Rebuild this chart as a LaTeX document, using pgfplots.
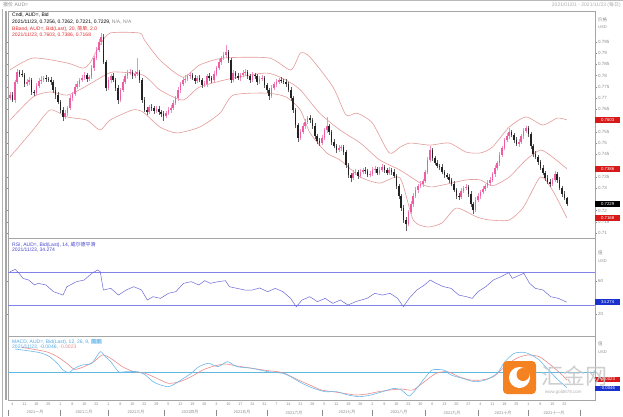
\documentclass[border=0pt]{standalone}
\usepackage{pgfplots}
\pgfplotsset{compat=1.18}
\usepackage{pgfplotstable}
\usepackage{fontspec}
\setmainfont{Liberation Sans}
\newfontfamily\cjk{Noto Sans CJK SC}
\definecolor{upc}{RGB}{238,92,165}
\definecolor{upw}{RGB}{240,145,192}
\definecolor{dnc}{RGB}{35,35,35}
\definecolor{dnw}{RGB}{95,95,95}
\definecolor{bbc}{RGB}{228,155,155}
\definecolor{rsic}{RGB}{105,105,215}
\definecolor{rsil}{RGB}{130,130,232}
\definecolor{macdc}{RGB}{110,185,235}
\definecolor{sigc}{RGB}{235,140,140}
\definecolor{zeroc}{RGB}{95,185,225}
\definecolor{frame}{RGB}{165,165,165}
\definecolor{lbl}{RGB}{140,140,140}
\definecolor{hdrred}{RGB}{225,45,45}
\definecolor{hdrblue}{RGB}{70,70,205}
\definecolor{hdrcyan}{RGB}{80,170,230}
\definecolor{logoor}{RGB}{245,130,32}
\definecolor{bxred}{RGB}{215,25,25}
\definecolor{bxblue}{RGB}{25,50,205}

\pgfplotstableread{
i o c u d
0 0.7700 0.7713 12 10
1 0.7713 0.7691 14 9
2 0.7691 0.7771 10 12
3 0.7771 0.7816 13 8
4 0.7816 0.7808 9 15
5 0.7808 0.7802 16 10
6 0.7802 0.7762 8 13
7 0.7762 0.7771 12 9
8 0.7771 0.7779 15 11
9 0.7779 0.7727 10 14
10 0.7727 0.7722 9 12
11 0.7722 0.7753 14 8
12 0.7753 0.7776 11 10
13 0.7776 0.7780 16 12
14 0.7780 0.7789 9 10
15 0.7789 0.7785 12 14
16 0.7785 0.7780 10 9
17 0.7780 0.7771 13 11
18 0.7771 0.7736 8 12
19 0.7736 0.7713 11 15
20 0.7713 0.7682 14 10
21 0.7682 0.7647 9 13
22 0.7647 0.7616 12 18
23 0.7616 0.7633 15 9
24 0.7633 0.7656 10 12
25 0.7656 0.7700 13 8
26 0.7700 0.7718 9 11
27 0.7718 0.7749 12 10
28 0.7749 0.7762 16 9
29 0.7762 0.7780 10 13
30 0.7780 0.7789 12 10
31 0.7789 0.7802 14 9
32 0.7802 0.7785 9 12
33 0.7785 0.7793 11 10
34 0.7793 0.7833 13 9
35 0.7833 0.7878 10 12
36 0.7878 0.7913 15 10
37 0.7913 0.7949 12 9
38 0.7949 0.7971 20 14
39 0.7971 0.7860 12 10
40 0.7860 0.7744 10 14
41 0.7744 0.7780 13 9
42 0.7780 0.7798 11 12
43 0.7798 0.7780 14 10
44 0.7780 0.7744 9 13
45 0.7744 0.7691 12 16
46 0.7691 0.7736 10 9
47 0.7736 0.7771 13 11
48 0.7771 0.7798 9 10
49 0.7798 0.7811 12 14
50 0.7811 0.7816 15 10
51 0.7816 0.7798 10 12
52 0.7798 0.7807 13 9
53 0.7807 0.7816 60 11
54 0.7816 0.7780 10 12
55 0.7780 0.7691 9 14
56 0.7691 0.7647 12 10
57 0.7647 0.7638 14 12
58 0.7638 0.7660 10 9
59 0.7660 0.7656 13 15
60 0.7656 0.7642 9 11
61 0.7642 0.7651 12 10
62 0.7651 0.7638 15 12
63 0.7638 0.7629 10 14
64 0.7629 0.7620 12 22
65 0.7620 0.7633 9 10
66 0.7633 0.7647 13 9
67 0.7647 0.7656 11 12
68 0.7656 0.7678 14 10
69 0.7678 0.7700 10 9
70 0.7700 0.7736 12 11
71 0.7736 0.7762 9 13
72 0.7762 0.7780 13 10
73 0.7780 0.7785 16 12
74 0.7785 0.7798 10 9
75 0.7798 0.7802 12 14
76 0.7802 0.7789 9 10
77 0.7789 0.7776 14 12
78 0.7776 0.7789 11 10
79 0.7789 0.7780 13 9
80 0.7780 0.7758 10 15
81 0.7758 0.7762 12 10
82 0.7762 0.7798 9 11
83 0.7798 0.7789 14 12
84 0.7789 0.7780 10 13
85 0.7780 0.7807 12 9
86 0.7807 0.7833 11 10
87 0.7833 0.7860 14 9
88 0.7860 0.7878 10 12
89 0.7878 0.7891 13 10
90 0.7891 0.7904 30 11
91 0.7904 0.7869 10 12
92 0.7869 0.7780 9 14
93 0.7780 0.7811 13 10
94 0.7811 0.7798 11 12
95 0.7798 0.7789 14 9
96 0.7789 0.7802 10 11
97 0.7802 0.7811 12 10
98 0.7811 0.7816 15 12
99 0.7816 0.7798 10 13
100 0.7798 0.7780 9 11
101 0.7780 0.7802 13 10
102 0.7802 0.7798 11 12
103 0.7798 0.7771 10 14
104 0.7771 0.7785 14 9
105 0.7785 0.7789 12 10
106 0.7789 0.7758 9 12
107 0.7758 0.7736 11 14
108 0.7736 0.7709 10 16
109 0.7709 0.7744 13 9
110 0.7744 0.7762 11 10
111 0.7762 0.7771 14 12
112 0.7771 0.7780 10 9
113 0.7780 0.7776 12 11
114 0.7776 0.7771 9 10
115 0.7771 0.7762 13 12
116 0.7762 0.7736 10 11
117 0.7736 0.7700 12 13
118 0.7700 0.7647 9 14
119 0.7647 0.7580 11 12
120 0.7580 0.7522 10 16
121 0.7522 0.7549 13 9
122 0.7549 0.7576 11 10
123 0.7576 0.7594 14 12
124 0.7594 0.7611 10 9
125 0.7611 0.7602 13 11
126 0.7602 0.7576 9 12
127 0.7576 0.7531 11 13
128 0.7531 0.7509 10 12
129 0.7509 0.7500 12 14
130 0.7500 0.7522 13 9
131 0.7522 0.7558 11 10
132 0.7558 0.7576 40 12
133 0.7576 0.7549 10 11
134 0.7549 0.7505 9 13
135 0.7505 0.7487 12 10
136 0.7487 0.7469 10 14
137 0.7469 0.7478 13 9
138 0.7478 0.7482 11 12
139 0.7482 0.7460 10 11
140 0.7460 0.7402 9 13
141 0.7402 0.7358 11 12
142 0.7358 0.7345 10 16
143 0.7345 0.7367 13 9
144 0.7367 0.7371 12 11
145 0.7371 0.7353 10 12
146 0.7353 0.7371 14 9
147 0.7371 0.7380 11 10
148 0.7380 0.7376 13 12
149 0.7376 0.7358 10 11
150 0.7358 0.7362 12 10
151 0.7362 0.7380 14 9
152 0.7380 0.7385 11 12
153 0.7385 0.7367 10 11
154 0.7367 0.7380 13 10
155 0.7380 0.7393 12 9
156 0.7393 0.7380 10 12
157 0.7380 0.7367 11 10
158 0.7367 0.7380 14 9
159 0.7380 0.7371 10 11
160 0.7371 0.7353 12 10
161 0.7353 0.7309 9 13
162 0.7309 0.7265 11 12
163 0.7265 0.7211 10 14
164 0.7211 0.7158 12 13
165 0.7158 0.7140 14 30
166 0.7140 0.7193 10 9
167 0.7193 0.7229 12 10
168 0.7229 0.7265 11 12
169 0.7265 0.7291 13 9
170 0.7291 0.7309 10 11
171 0.7309 0.7318 12 10
172 0.7318 0.7331 9 12
173 0.7331 0.7371 11 10
174 0.7371 0.7425 12 9
175 0.7425 0.7469 18 10
176 0.7469 0.7433 10 12
177 0.7433 0.7411 11 10
178 0.7411 0.7398 13 11
179 0.7398 0.7393 10 12
180 0.7393 0.7371 12 10
181 0.7371 0.7358 9 13
182 0.7358 0.7349 11 10
183 0.7349 0.7336 13 12
184 0.7336 0.7318 10 11
185 0.7318 0.7291 12 10
186 0.7291 0.7265 9 13
187 0.7265 0.7260 11 12
188 0.7260 0.7287 13 9
189 0.7287 0.7300 10 11
190 0.7300 0.7305 12 10
191 0.7305 0.7274 9 12
192 0.7274 0.7229 11 13
193 0.7229 0.7202 10 17
194 0.7202 0.7247 13 9
195 0.7247 0.7265 11 10
196 0.7265 0.7282 10 12
197 0.7282 0.7296 12 9
198 0.7296 0.7309 9 11
199 0.7309 0.7322 13 10
200 0.7322 0.7336 11 12
201 0.7336 0.7362 10 9
202 0.7362 0.7389 12 11
203 0.7389 0.7411 9 10
204 0.7411 0.7447 13 12
205 0.7447 0.7478 11 9
206 0.7478 0.7513 10 11
207 0.7513 0.7531 12 10
208 0.7531 0.7549 18 12
209 0.7549 0.7536 10 11
210 0.7536 0.7513 9 13
211 0.7513 0.7496 12 10
212 0.7496 0.7505 11 12
213 0.7505 0.7531 10 9
214 0.7531 0.7553 13 11
215 0.7553 0.7567 10 10
216 0.7567 0.7540 9 12
217 0.7540 0.7487 11 13
218 0.7487 0.7451 10 12
219 0.7451 0.7438 13 10
220 0.7438 0.7416 11 12
221 0.7416 0.7389 10 9
222 0.7389 0.7367 12 11
223 0.7367 0.7345 9 13
224 0.7345 0.7327 11 10
225 0.7327 0.7318 13 12
226 0.7318 0.7336 10 9
227 0.7336 0.7362 12 11
228 0.7362 0.7336 10 12
229 0.7336 0.7300 11 10
230 0.7300 0.7274 9 13
231 0.7274 0.7256 12 10
232 0.7256 0.7229 6 8
}\candles

\pgfplotstableread{
i v
0 0.7825
9.6 0.7878
23.8 0.7856
30.4 0.7833
33.3 0.7856
37.5 0.7936
41.7 0.7989
54 0.7989
56 0.7958
62.5 0.7869
72 0.7793
79 0.7847
89 0.7878
108 0.7878
117 0.7825
121 0.7900
125 0.7882
134.6 0.7749
140 0.7625
144.6 0.7633
151 0.7589
158 0.7456
162.5 0.7482
166.7 0.7500
175 0.7491
183 0.7500
190 0.7460
196 0.7456
201 0.7482
208 0.7571
215 0.7616
222 0.7580
228 0.7611
232 0.7603
}\bbup

\pgfplotstableread{
i v
0 0.7602
9.6 0.7705
16.7 0.7727
23.8 0.7713
30.4 0.7745
37.5 0.7789
43 0.7816
55.4 0.7802
62.5 0.7736
72 0.7691
79 0.7749
93 0.7789
107 0.7811
115 0.7780
121 0.7736
129 0.7633
137.5 0.7558
146 0.7500
154 0.7425
162.5 0.7380
171 0.7322
176 0.7305
190 0.7336
196 0.7336
201 0.7310
208 0.7349
215 0.7425
221 0.7469
226 0.7438
232 0.7386
}\bbmid

\pgfplotstableread{
i v
0 0.7438
9.6 0.7558
16.7 0.7647
23.8 0.7616
32 0.7602
37.5 0.7558
41.7 0.7602
51 0.7647
55.4 0.7638
62.5 0.7571
69.6 0.7545
79 0.7571
87.5 0.7633
93 0.7713
107 0.7722
115 0.7705
121 0.7647
125 0.7545
132 0.7456
137.5 0.7425
146 0.7349
154 0.7322
162.5 0.7345
168 0.7158
174 0.7127
180 0.7145
186 0.7211
194.6 0.7171
200 0.7158
208 0.7158
214 0.7216
221 0.7349
226 0.7291
232 0.7168
}\bblow

\pgfplotstableread{
i v
0 71.2
2.2 74.0
3.8 69.2
5.4 63.1
7.8 61.1
10.2 55.1
11.8 57.1
15 55.1
18.1 47.0
22.1 42.9
23.7 53.0
27.7 59.1
30.9 61.1
34.1 69.2
36.5 73.2
37.6 71.2
38.9 49.0
42 51.0
45.2 42.9
48.4 49.0
51.6 53.0
54.8 49.0
57.2 36.9
59.6 40.9
62.8 38.9
66 45.0
69.1 47.0
72.3 57.1
75.5 59.1
78.7 55.1
81.1 60.3
83.5 57.1
86.7 59.1
89.8 60.3
91.4 53.0
94.6 51.0
97.8 49.0
101 49.0
104 51.5
107.4 47.0
110.5 51.0
113.7 47.0
116.9 38.9
119.3 28.8
121.7 36.9
124.9 40.9
128.1 34.9
131.3 38.9
134.5 32.8
137.6 36.9
140.8 30.8
144 34.9
148.8 38.9
152 45.0
155.2 42.9
158.4 45.0
161.5 38.9
163.9 28.8
166.3 38.9
169.5 49.0
172.7 55.1
175.1 61.1
177.5 57.1
180.7 53.0
183.8 51.0
187 42.9
190.2 40.9
192.6 38.9
195 47.0
198.2 53.0
201.4 61.1
204.6 65.2
207.8 70.0
209.3 63.1
214.1 69.2
216.5 57.1
218.9 51.0
222.1 49.0
225.3 40.9
228.5 38.9
232 34.27
}\rsi

\pgfplotstableread{
i v
2 0.0070
10.2 0.0062
13.4 0.0057
16.5 0.0047
19.7 0.0027
22.1 0.0007
24.5 -0.0001
26.9 0.0012
30.1 0.0022
34.1 0.0027
37.6 0.0062
39.7 0.0047
42 0.0032
45.2 0.0002
48.4 0.0002
53.2 0.0002
56.4 -0.0008
59.6 -0.0028
62.8 -0.0038
66 -0.0043
69.1 -0.0033
72.3 -0.0018
75.5 -0.0003
78.7 0.0017
82.7 0.0027
86.7 0.0017
90.6 0.0032
94.6 0.0017
101 0.0012
107.4 0.0002
113.7 -0.0003
116.9 -0.0013
121.7 -0.0033
126.5 -0.0048
131.3 -0.0058
136.1 -0.0058
140.8 -0.0068
145.6 -0.0073
150.4 -0.0068
155.2 -0.0058
160 -0.0048
163.1 -0.0053
166.3 -0.0071
169.5 -0.0048
172.7 -0.0018
175.9 0.0007
180.7 0.0007
183.8 -0.0008
188.6 -0.0018
193.4 -0.0028
198.2 -0.0023
203 -0.0003
206.2 0.0032
210.1 0.0057
214.1 0.0060
217.3 0.0052
220.5 0.0037
223.7 0.0012
227.7 -0.0018
232 -0.0046
}\macd

\pgfplotstableread{
i v
5 0.0075
15 0.0062
19.7 0.0047
23.7 0.0027
26.9 0.0009
30.9 0.0017
34.9 0.0032
38.5 0.0052
42 0.0042
46.8 0.0017
51.6 0.0002
56.4 -0.0003
61.2 -0.0018
66 -0.0033
70.7 -0.0028
75.5 -0.0013
80.3 0.0007
85.1 0.0019
89.8 0.0025
94.6 0.0019
101 0.0012
107.4 0.0005
113.7 -0.0001
120.1 -0.0023
124.9 -0.0038
129.7 -0.0053
134.5 -0.0058
139.2 -0.0063
144 -0.0068
148.8 -0.0065
153.6 -0.0058
158.4 -0.0053
163.1 -0.0050
167.9 -0.0053
172.7 -0.0028
177.5 -0.0003
182.3 0.0002
187 -0.0013
191.8 -0.0023
196.6 -0.0023
201.4 -0.0013
206.2 0.0017
211 0.0042
215.7 0.0052
220.5 0.0047
225.3 0.0022
230.1 -0.0008
232 -0.0023
}\signal

\pgfplotsset{
  panel/.style={scale only axis, width=587pt, xmin=-0.83, xmax=243.75,
    anchor=north west, clip=false,
    axis line style={draw=frame, line width=0.6pt},
    xtick=\empty, yticklabel pos=right, tick align=outside,
    major tick length=2pt,
    ytick style={draw=lbl, line width=0.3pt},
    yticklabel style={font=\fontsize{4.5}{5}\selectfont, text=lbl, inner sep=1pt,
      /pgf/number format/assume math mode=true}},
  cndl/.style n args={3}{draw=none, mark=none, forget plot,
    restrict expr to domain={\thisrow{c}-\thisrow{o}}{#1},
    error bars/.cd, y dir=plus, y explicit, error mark=none,
    error bar style={draw=#2, line width=#3, line cap=butt}},
}
\tikzset{bx/.style={anchor=west, text=white, inner sep=0.4pt, minimum width=25pt,
    minimum height=5.6pt, font=\fontsize{4.3}{4.6}\selectfont}}
\newcommand\hdr{\fontsize{5}{6}\selectfont}

\begin{document}
\begin{tikzpicture}[x=1pt,y=1pt]
\fill[white] (0,0) rectangle (623,-417);
\path[use as bounding box] (0,0) rectangle (623,-417);
\draw[gray!55, line width=1pt] (0,-0.5) -- (623,-0.5);
\node[anchor=west, text=lbl, font=\hdr, inner sep=0] at (3,-5) {{\cjk 报价} AUD=};
\node[anchor=east, text=lbl!70, font=\hdr, inner sep=0] at (621,-5) {2021/01/01 - 2021/11/23 ({\cjk 每日})};

% ---------- price panel ----------
\begin{axis}[panel, at={(8pt,-11pt)}, height=227pt,
  ymin=0.7078, ymax=0.8087,
  ytick={0.71,0.715,0.72,0.73,0.735,0.745,0.75,0.755,0.765,0.77,0.775,0.78,0.785,0.79,0.795},
  yticklabel style={/pgf/number format/fixed, /pgf/number format/precision=3}]
\addplot[bbc, line width=0.6pt, smooth, tension=0.4] table[x=i,y=v] {\bbup};
\addplot[bbc, line width=0.6pt, smooth, tension=0.4] table[x=i,y=v] {\bbmid};
\addplot[bbc, line width=0.6pt, smooth, tension=0.4] table[x=i,y=v] {\bblow};
% wicks
\addplot[cndl={0:1}{upw}{0.5pt}] table[x=i,
  y expr={min(\thisrow{o},\thisrow{c})-\thisrow{d}/10000},
  y error plus expr={abs(\thisrow{c}-\thisrow{o})+(\thisrow{u}+\thisrow{d})/10000}] {\candles};
\addplot[cndl={-1:-0.00001}{dnw}{0.5pt}] table[x=i,
  y expr={min(\thisrow{o},\thisrow{c})-\thisrow{d}/10000},
  y error plus expr={abs(\thisrow{c}-\thisrow{o})+(\thisrow{u}+\thisrow{d})/10000}] {\candles};
% bodies
\addplot[cndl={0:1}{upc}{1.7pt}] table[x=i,
  y expr={min(\thisrow{o},\thisrow{c})},
  y error plus expr={max(abs(\thisrow{c}-\thisrow{o}),0.00025)}] {\candles};
\addplot[cndl={-1:-0.00001}{dnc}{1.7pt}] table[x=i,
  y expr={min(\thisrow{o},\thisrow{c})},
  y error plus expr={max(abs(\thisrow{c}-\thisrow{o}),0.00025)}] {\candles};
\node[bx, fill=bxred] at (axis cs:243.75,0.7603) {0.7603};
\node[bx, fill=bxred] at (axis cs:243.75,0.7386) {0.7386};
\node[bx, fill=black] at (axis cs:243.75,0.7229) {0.7229};
\node[bx, fill=bxred] at (axis cs:243.75,0.7168) {0.7168};
\end{axis}
\node[anchor=west, text=lbl, font=\fontsize{4.5}{5}\selectfont\cjk, inner sep=0] at (598,-20) {价格};
\node[anchor=west, text=lbl, font=\fontsize{4}{5}\selectfont, inner sep=0] at (598,-27) {USD};
\node[anchor=west, font=\hdr, inner sep=0] at (12,-15.5) {Cndl, AUD=, Bid};
\node[anchor=west, font=\hdr, inner sep=0] at (12,-22) {2021/11/23, 0.7256, 0.7262, 0.7221, 0.7229, \textcolor{lbl}{N/A, N/A}};
\node[anchor=west, font=\hdr, text=hdrred, inner sep=0] at (12,-28.5) {BBand, AUD=, Bid(Last), 20, {\cjk 简单}, 2.0};
\node[anchor=west, font=\hdr, text=hdrred, inner sep=0] at (12,-35) {2021/11/23, 0.7603, 0.7386, 0.7168};

% ---------- RSI panel ----------
\begin{axis}[panel, at={(8pt,-238pt)}, height=98pt, ymin=-6.7, ymax=112, ytick={20,60}]
\addplot[rsil, line width=1.1pt] coordinates {(-0.83,70) (243.75,70)};
\addplot[rsil, line width=1.1pt] coordinates {(-0.83,30) (243.75,30)};
\addplot[rsic, line width=0.5pt] table[x=i,y=v] {\rsi};
\node[bx, fill=bxblue] at (axis cs:243.75,34.274) {34.274};
\end{axis}
\node[anchor=west, text=lbl, font=\fontsize{4.5}{5}\selectfont\cjk, inner sep=0] at (598,-253) {值};
\node[anchor=west, text=lbl, font=\fontsize{4}{5}\selectfont, inner sep=0] at (598,-261) {USD};
\node[anchor=west, font=\hdr, text=hdrblue, inner sep=0] at (12,-244.5) {RSI, AUD=, Bid(Last), 14, {\cjk 威尔德平滑}};
\node[anchor=west, font=\hdr, text=hdrblue, inner sep=0] at (12,-250.5) {2021/11/23, 34.274};

% ---------- MACD panel ----------
\begin{axis}[panel, at={(8pt,-336pt)}, height=64pt, ymin=-0.0083, ymax=0.0109,
  ytick=\empty,
  xtick={1,6,...,231},
  xticklabels={4,11,18,25,1,8,15,22,1,8,15,22,29,5,12,19,26,3,10,17,24,31,7,14,21,28,5,12,19,26,2,9,16,23,30,6,13,20,27,4,11,18,25,1,8,15,22},
  xtick style={draw=none},
  xticklabel style={font=\fontsize{3.8}{4}\selectfont, text=lbl, inner sep=0.8pt}]
\addplot[zeroc, line width=0.7pt] coordinates {(-0.83,0) (243.75,0)};
\addplot[sigc, line width=0.6pt, smooth, tension=0.4] table[x=i,y=v] {\signal};
\addplot[macdc, line width=0.6pt, smooth, tension=0.4] table[x=i,y=v] {\macd};
\node[bx, fill=bxred] at (axis cs:243.75,-0.00215) {-0.0023};
\node[bx, fill=bxblue] at (axis cs:243.75,-0.0048) {-0.0046};
\end{axis}
\node[anchor=west, text=lbl, font=\fontsize{4.5}{5}\selectfont\cjk, inner sep=0] at (598,-344) {值};
\node[anchor=west, text=lbl, font=\fontsize{4}{5}\selectfont, inner sep=0] at (598,-352) {USD};
\node[anchor=west, font=\hdr, text=hdrcyan, inner sep=0] at (12,-341.5) {MACD, AUD=, Bid(Last), 12, 26, 9, {\setlength\fboxsep{0.4pt}\colorbox{hdrcyan!35}{\cjk 简单}}};
\node[anchor=west, font=\hdr, text=hdrcyan, inner sep=0] at (12,-347.5) {2021/11/23, -0.0046, \textcolor{sigc}{-0.0023}};

% left frame
\draw[gray!60, line width=0.6pt] (2,-9) -- (2,-417);
\draw[gray!70, line width=2pt] (6,-11) -- (6,-400);

% month row
\foreach \xx in {8,60,108,164,216,267,322,372,425,478,528,580}
  \draw[lbl, line width=0.3pt] (\xx,-409.5) -- (\xx,-415.5);
\foreach \xx/\mm in {35/一月,84/二月,136/三月,190/四月,242/五月,294/六月,347/七月,399/八月,452/九月,503/十月,554/十一月}
  \node[text=lbl, font=\fontsize{4}{5}\selectfont, inner sep=0] at (\xx,-412.5) {2021{\cjk\mm}};

% watermark
\fill[logoor, rounded corners=4pt] (503,-361) rectangle (536,-394);
\fill[white] (519.5,-377.5) circle (10.5);
\fill[logoor] (523,-374.5) circle (6.5);
\node[anchor=west, text=gray!45, font=\cjk\fontsize{22}{22}\selectfont, inner sep=0, opacity=0.85] at (541,-376) {汇金网};
\node[anchor=west, text=gray!60, font=\fontsize{4.5}{5}\selectfont, inner sep=0] at (545,-392.5) {www.gold678.com};
\end{tikzpicture}
\end{document}
